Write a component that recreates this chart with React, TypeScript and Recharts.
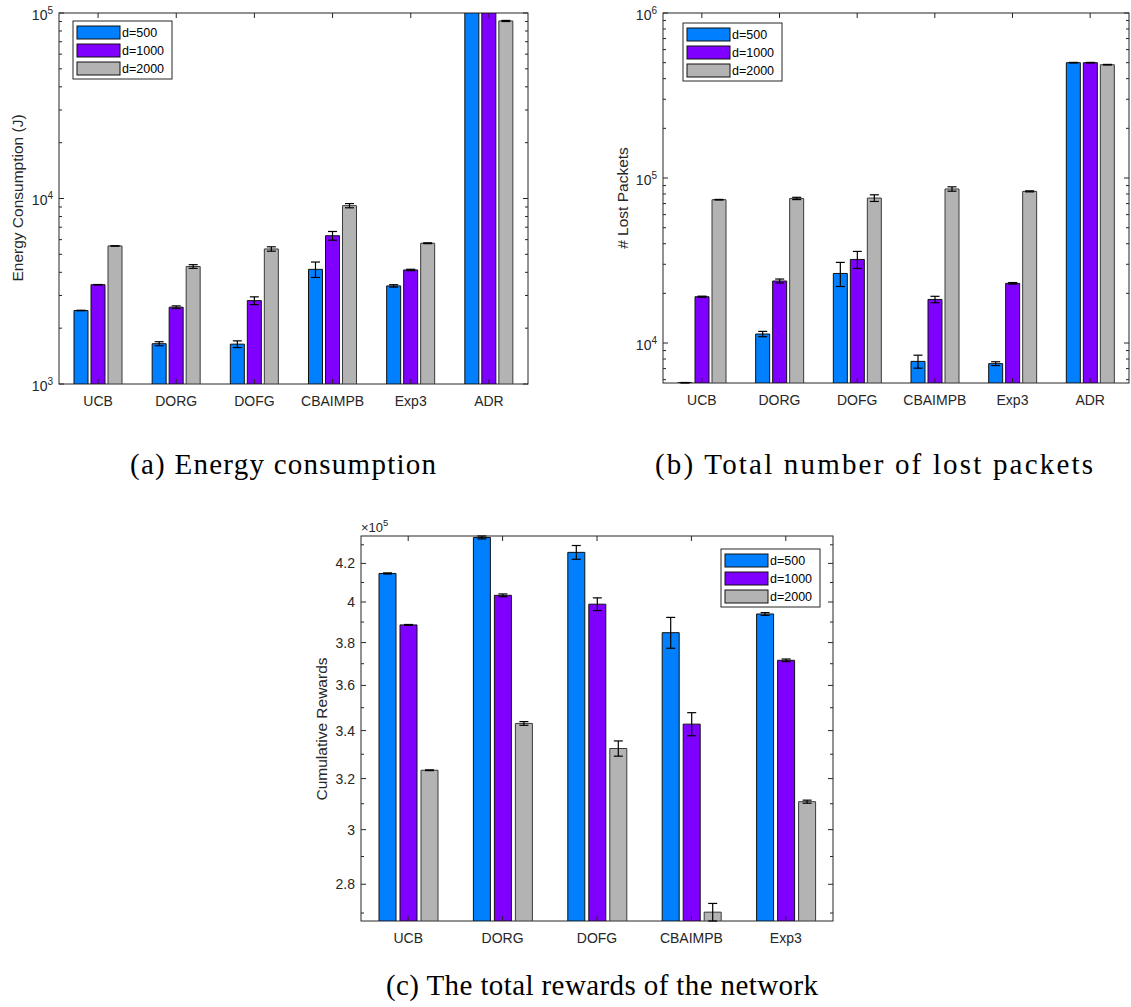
import React from "react";
import { BarChart, Bar, XAxis, YAxis, ErrorBar, Customized } from "recharts";

const AXIS = "#262626";
const FONT = "'Liberation Sans', Arial, Helvetica, sans-serif";
const SERIF = "'Liberation Serif', 'Times New Roman', serif";

const seriesNames = ["d=500", "d=1000", "d=2000"];
const seriesColors = ["#0080ff", "#8000ff", "#b3b3b3"];
const seriesEdges = ["#111111", "#111111", "#3a3a3a"];

// (a) energy consumption, log axis
const methodsAB = ["UCB", "DORG", "DOFG", "CBAIMPB", "Exp3", "ADR"];
const energy500 = [2490, 1649, 1640, 4150, 3380, 100000];
const energy1000 = [3430, 2595, 2815, 6300, 4120, 100000];
const energy2000 = [5550, 4300, 5345, 9150, 5740, 90600];
const energyErr500 = [8, 41, 68, 395, 50, 0];
const energyErr1000 = [8, 42, 135, 340, 35, 0];
const energyErr2000 = [10, 98, 145, 240, 30, 600];
const energyTicks = [1000, 2000, 3000, 4000, 5000, 6000, 7000, 8000, 9000, 10000, 20000, 30000, 40000, 50000, 60000, 70000, 80000, 90000, 100000];
const energyMajor = [1000, 10000, 100000];

// (b) lost packets, log axis
const lost500 = [5745, 11340, 26400, 7740, 7500, 500000];
const lost1000 = [19080, 23760, 32100, 18370, 23000, 500000];
const lost2000 = [73870, 75200, 75600, 85800, 83000, 486000];
const lostErr500 = [21, 420, 4400, 700, 200, 2000];
const lostErr1000 = [150, 660, 3800, 820, 250, 2000];
const lostErr2000 = [300, 1200, 3500, 2600, 600, 2000];
const lostTicks = [6000, 7000, 8000, 9000, 10000, 20000, 30000, 40000, 50000, 60000, 70000, 80000, 90000, 100000, 200000, 300000, 400000, 500000, 600000, 700000, 800000, 900000, 1000000];
const lostMajor = [10000, 100000, 1000000];

// (c) cumulative rewards, log axis shown as x10^5
const methodsC = ["UCB", "DORG", "DOFG", "CBAIMPB", "Exp3"];
const reward500 = [414700, 434000, 425900, 384800, 394000];
const reward1000 = [388600, 403400, 398900, 342800, 371600];
const reward2000 = [323400, 343100, 332400, 270300, 310800];
const rewardErr500 = [300, 800, 3700, 7500, 700];
const rewardErr1000 = [200, 700, 3200, 5000, 600];
const rewardErr2000 = [150, 800, 3200, 3000, 600];
const rewardTicks = [270000, 280000, 290000, 300000, 310000, 320000, 330000, 340000, 350000, 360000, 370000, 380000, 390000, 400000, 410000, 420000, 430000];
const rewardMajor = [280000, 300000, 320000, 340000, 360000, 380000, 400000, 420000];

function buildRows(cats: string[], vals: number[][], errs: number[][]) {
  return cats.map((name, i) => ({
    name,
    v0: vals[0][i], v1: vals[1][i], v2: vals[2][i],
    e0: errs[0][i], e1: errs[1][i], e2: errs[2][i],
  }));
}

const rowsA = buildRows(methodsAB, [energy500, energy1000, energy2000], [energyErr500, energyErr1000, energyErr2000]);
const rowsB = buildRows(methodsAB, [lost500, lost1000, lost2000], [lostErr500, lostErr1000, lostErr2000]);
const rowsC = buildRows(methodsC, [reward500, reward1000, reward2000], [rewardErr500, rewardErr1000, rewardErr2000]);

const powLabel = (v: number) => ({ base: "10", sup: String(Math.round(Math.log10(v))) });
const x1e5Label = (v: number) => ({ base: String(Math.round(v / 1e4) / 10), sup: "" });

function XTick(props: any) {
  const { x, y, payload, ph } = props;
  return (
    <g>
      <line x1={x} y1={y} x2={x} y2={y - 5} stroke={AXIS} />
      <line x1={x} y1={y - ph} x2={x} y2={y - ph + 5} stroke={AXIS} />
      <text x={x} y={y + 22} textAnchor="middle" fontSize={14} fill={AXIS} fontFamily={FONT}>
        {payload.value}
      </text>
    </g>
  );
}

function YTick(props: any) {
  const { x, y, payload, pw, major, fmt } = props;
  const v = payload.value;
  const isMajor = major.some((m: number) => Math.abs(m - v) < m * 1e-6);
  const len = isMajor ? 5 : 3;
  const lab = isMajor ? fmt(v) : null;
  return (
    <g>
      <line x1={x} y1={y} x2={x + len} y2={y} stroke={AXIS} />
      <line x1={x + pw} y1={y} x2={x + pw - len} y2={y} stroke={AXIS} />
      {lab && (
        <text x={x - 6} y={y + (lab.sup ? 6.5 : 5)} textAnchor="end" fontSize={14} fill={AXIS} fontFamily={FONT}>
          {lab.base}
          {lab.sup && <tspan dy={-6} fontSize={10}>{lab.sup}</tspan>}
        </text>
      )}
    </g>
  );
}

const YW = 50;
const XH = 30;

function Panel(props: any) {
  const { x, y, ml, mt, pw, ph, rows, domain, ticks, major, fmt, barSize, barGap } = props;
  const width = ml + YW + pw + 4;
  const height = mt + ph + XH + 2;
  return (
    <div style={{ position: "absolute", left: x, top: y }}>
      <BarChart width={width} height={height} data={rows} margin={{ top: mt, right: 4, bottom: 2, left: ml }} barSize={barSize} barGap={barGap}>
        <XAxis dataKey="name" height={XH} interval={0} axisLine={false} tickLine={false} tickSize={0} tickMargin={0}
          tick={(p: any) => <XTick {...p} ph={ph} />} />
        <YAxis type="number" scale="log" domain={domain} allowDataOverflow ticks={ticks} interval={0} width={YW}
          axisLine={false} tickLine={false} tickSize={0} tickMargin={0}
          tick={(p: any) => <YTick {...p} pw={pw} major={major} fmt={fmt} />} />
        {[0, 1, 2].map((k) => (
          <Bar key={k} dataKey={`v${k}`} name={seriesNames[k]} fill={seriesColors[k]} stroke={seriesEdges[k]} strokeWidth={1} isAnimationActive={false}>
            <ErrorBar dataKey={`e${k}`} width={4.5} stroke="#000" strokeWidth={1.2} isAnimationActive={false} />
          </Bar>
        ))}
        <Customized component={<rect x={ml + YW} y={mt} width={pw} height={ph} fill="none" stroke={AXIS} strokeWidth={1} />} />
      </BarChart>
    </div>
  );
}

function LegendBox({ x, y }: { x: number; y: number }) {
  return (
    <g>
      <rect x={x} y={y} width={99} height={58} fill="#fff" stroke={AXIS} strokeWidth={1} />
      {seriesNames.map((n, i) => (
        <g key={n}>
          <rect x={x + 4} y={y + 5 + i * 18} width={43} height={13} fill={seriesColors[i]} stroke="#111" strokeWidth={1} />
          <text x={x + 49} y={y + 16 + i * 18} fontSize={12.5} fill="#000" fontFamily={FONT}>{n}</text>
        </g>
      ))}
    </g>
  );
}

export default function App() {
  return (
    <div style={{ position: "absolute", left: 0, top: 0, width: 1131, height: 1007, background: "#fff" }}>
      <Panel x={0} y={0} ml={9} mt={13} pw={469} ph={371} rows={rowsA} domain={[1000, 100000]}
        ticks={energyTicks} major={energyMajor} fmt={powLabel} barSize={14} barGap={3} />
      <Panel x={600} y={0} ml={13} mt={13} pw={466} ph={370} rows={rowsB} domain={[5724, 1000000]}
        ticks={lostTicks} major={lostMajor} fmt={powLabel} barSize={14} barGap={3} />
      <Panel x={300} y={520} ml={11} mt={16} pw={472} ph={385} rows={rowsC} domain={[267300, 434800]}
        ticks={rewardTicks} major={rewardMajor} fmt={x1e5Label} barSize={17} barGap={4} />
      <svg width={1131} height={1007} style={{ position: "absolute", left: 0, top: 0, pointerEvents: "none" }}>
        <LegendBox x={73} y={21} />
        <LegendBox x={683} y={23} />
        <LegendBox x={721} y={549} />
        <text x={17} y={198} transform="rotate(-90 17 198)" textAnchor="middle" dominantBaseline="central" fontSize={15.5} fill={AXIS} fontFamily={FONT}>Energy Consumption (J)</text>
        <text x={622} y={198} transform="rotate(-90 622 198)" textAnchor="middle" dominantBaseline="central" fontSize={15.5} fill={AXIS} fontFamily={FONT}># Lost Packets</text>
        <text x={321} y={729} transform="rotate(-90 321 729)" textAnchor="middle" dominantBaseline="central" fontSize={15.5} fill={AXIS} fontFamily={FONT}>Cumulative Rewards</text>
        <text x={361} y={532} fontSize={13} fill={AXIS} fontFamily={FONT}>
          ×10<tspan dy={-6} fontSize={9.5}>5</tspan>
        </text>
        <text x={130} y={474} fontSize={29} fill="#000" fontFamily={SERIF} textLength={306} lengthAdjust="spacing">(a) Energy consumption</text>
        <text x={655} y={474} fontSize={29} fill="#000" fontFamily={SERIF} textLength={438} lengthAdjust="spacing">(b) Total number of lost packets</text>
        <text x={386} y={995} fontSize={29} fill="#000" fontFamily={SERIF} textLength={432} lengthAdjust="spacing">(c) The total rewards of the network</text>
      </svg>
    </div>
  );
}
